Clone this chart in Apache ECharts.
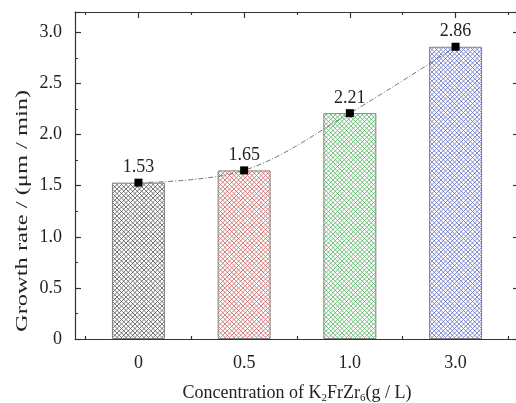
<!DOCTYPE html>
<html>
<head>
<meta charset="utf-8">
<script src="https://cdn.jsdelivr.net/npm/echarts@6/dist/echarts.min.js"></script>
<style>
  html, body { margin: 0; padding: 0; background: #fff; }
  #main { width: 516px; height: 403px; }
</style>
</head>
<body>
<div id="main"></div>
<script>
// data
var categories = ['0', '0.5', '1.0', '3.0'];
var positions = [1, 2, 3, 4];
var growthRate = [1.53, 1.65, 2.21, 2.86];
var hatchColors = ['#555555', '#c86666', '#55b465', '#5e6ec0'];
var yTicks = [0, 0.5, 1.0, 1.5, 2.0, 2.5, 3.0];

var FONT = '"Liberation Serif", "DejaVu Serif", serif';

// crosshatch fill for the bars
function hatch(color) {
  var s = 4.5;
  var c = document.createElement('canvas');
  c.width = 9; c.height = 9;
  var ctx = c.getContext('2d');
  ctx.fillStyle = '#fff';
  ctx.fillRect(0, 0, 9, 9);
  ctx.strokeStyle = color;
  ctx.lineWidth = 0.8;
  ctx.beginPath();
  for (var k = -2; k <= 4; k++) {
    ctx.moveTo(k * s - 1, -1); ctx.lineTo(k * s + 10, 10);
    ctx.moveTo(k * s + 10, -1); ctx.lineTo(k * s - 1, 10);
  }
  ctx.stroke();
  return { image: c, repeat: 'repeat' };
}

var barData = positions.map(function (p, i) {
  return {
    value: [p, growthRate[i]],
    itemStyle: { color: hatch(hatchColors[i]), borderColor: '#808080', borderWidth: 1 }
  };
});
var lineData = positions.map(function (p, i) { return [p, growthRate[i]]; });
var halfTicks = [0.5, 1.5, 2.5, 3.5, 4.5];

function xAx(pos, ticks, len, opts) {
  return Object.assign({
    type: 'value', position: pos, min: 0.4, max: 4.6,
    splitLine: { show: false },
    axisLine: { show: false },
    axisTick: { show: true, inside: true, length: len, customValues: ticks, lineStyle: { color: '#333', width: 1.2 } },
    axisLabel: { show: false }
  }, opts || {});
}

var chart = echarts.init(document.getElementById('main'));
chart.setOption({
  animation: false,
  backgroundColor: '#fff',
  grid: { left: 75, top: 12, width: 444, height: 327, containLabel: false, outerBoundsMode: 'none' },
  xAxis: [
    xAx('bottom', positions, 6, {
      axisLine: { show: true, lineStyle: { color: '#333', width: 1.2 } },
      axisLabel: {
        show: true, customValues: positions, margin: 15,
        fontFamily: FONT, fontSize: 18, color: '#222',
        formatter: function (v) { return categories[Math.round(v) - 1]; }
      },
      name: 'Concentration of K{s|2}FrZr{s|6}(g / L)',
      nameLocation: 'middle', nameGap: 44,
      nameTextStyle: {
        fontFamily: FONT, fontSize: 18, color: '#222',
        rich: { s: { fontFamily: FONT, fontSize: 11, color: '#222', verticalAlign: 'bottom', padding: [10, 0, 0, 0] } }
      }
    }),
    xAx('bottom', halfTicks, 3),
    xAx('top', positions, 6, { axisLine: { show: true, lineStyle: { color: '#333', width: 1.2 } } }),
    xAx('top', halfTicks, 3)
  ],
  yAxis: [
    {
      type: 'value', min: 0, max: 3.2, interval: 0.5, position: 'left',
      splitLine: { show: false },
      axisLine: { show: true, lineStyle: { color: '#333', width: 1.2 } },
      axisTick: { inside: true, length: 6, lineStyle: { color: '#333', width: 1.2 } },
      minorTick: { show: true, splitNumber: 2, length: 3, lineStyle: { color: '#333', width: 1 } },
      axisLabel: {
        customValues: yTicks, margin: 13,
        fontFamily: FONT, fontSize: 18, color: '#222',
        formatter: function (v) { return v === 0 ? '0' : v.toFixed(1); }
      }
    },
    {
      type: 'value', min: 0, max: 3.2, interval: 0.5, position: 'right',
      splitLine: { show: false },
      axisLine: { show: true, lineStyle: { color: '#333', width: 1.2 } },
      axisTick: { inside: true, length: 6, lineStyle: { color: '#333', width: 1.2 } },
      minorTick: { show: true, splitNumber: 2, length: 3, lineStyle: { color: '#333', width: 1 } },
      axisLabel: { show: false }
    }
  ],
  graphic: [{
    type: 'text', x: 14, y: 332,
    rotation: Math.PI / 2, scaleX: 1.44,
    style: { text: 'Growth rate / (μm / min)', font: '17px ' + FONT, fill: '#222', textVerticalAlign: 'top' }
  }],
  series: [
    {
      type: 'bar', xAxisIndex: 0, yAxisIndex: 0,
      barWidth: 53, data: barData
    },
    {
      type: 'line', xAxisIndex: 0, yAxisIndex: 0,
      data: lineData, smooth: 0.35,
      symbol: 'rect', symbolSize: 8,
      itemStyle: { color: '#000' },
      lineStyle: { color: '#666', width: 0.9, type: [5, 2, 1, 2] },
      label: {
        show: true, position: 'top', distance: 2,
        fontFamily: FONT, fontSize: 18, color: '#222',
        formatter: function (p) { return p.value[1].toFixed(2); }
      },
      z: 5
    }
  ]
});
</script>
</body>
</html>
